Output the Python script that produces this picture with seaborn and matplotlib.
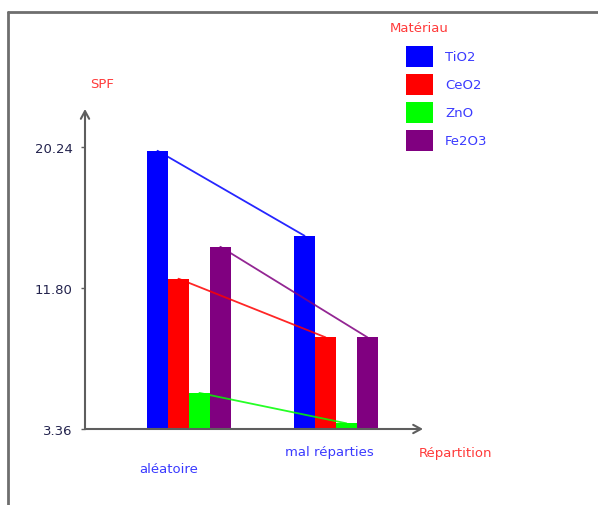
import pandas as pd
import numpy as np
import matplotlib.pyplot as plt
import seaborn as sns
from matplotlib.patches import Rectangle
from matplotlib.lines import Line2D
from matplotlib.transforms import blended_transform_factory

# -----------------------------
# Data
# -----------------------------
repartitions = ["aléatoire", "mal réparties"]
materiaux = ["TiO2", "CeO2", "ZnO", "Fe2O3"]
tio2 = [20.02, 14.93]
ceo2 = [12.36, 8.85]
zno = [5.52, 3.70]
fe2o3 = [14.27, 8.85]
couleurs = ["#0000ff", "#ff0000", "#00ff00", "#800080"]
yticks = [3.36, 11.80, 20.24]

df = pd.DataFrame({
    "Répartition": repartitions * 4,
    "Matériau": np.repeat(materiaux, 2),
    "SPF": tio2 + ceo2 + zno + fe2o3,
})

# -----------------------------
# Figure
# -----------------------------
sns.set_style("white")
plt.rcParams["font.family"] = ["DejaVu Sans"]

W, H = 598, 506
fig = plt.figure(figsize=(W / 100, H / 100), dpi=100)
ax = fig.add_axes([85 / W, 1 - 430 / H, (423 - 85) / W, (430 - 110) / H])

sns.barplot(data=df, x="Répartition", y="SPF", hue="Matériau",
            order=repartitions, hue_order=materiaux,
            palette=dict(zip(materiaux, couleurs)), width=0.57,
            saturation=1, errorbar=None, linewidth=0, legend=False, ax=ax)

# lines joining the same material across the two groups
for cont, col in zip(ax.containers, couleurs):
    xs = [b.get_x() + b.get_width() / 2 for b in cont]
    ys = [b.get_height() for b in cont]
    ax.plot(xs, ys, color=col, lw=1.3, alpha=0.85, zorder=3)

ax.set_xlim(-0.707, 1.592)
ax.set_ylim(3.36, 22.52)
for s in ax.spines.values():
    s.set_visible(False)

axis_col = "#5e5e5e"
arrow = dict(arrowstyle="->,head_length=0.55,head_width=0.3", color=axis_col,
             lw=1.5, shrinkA=0, shrinkB=0)
ax.annotate("", xy=(1, 0), xytext=(0, 0), xycoords="axes fraction", arrowprops=arrow)
ax.annotate("", xy=(0, 1), xytext=(0, 0), xycoords="axes fraction", arrowprops=arrow)

ax.set_yticks(yticks)
ax.set_yticklabels([f"{v:.2f}" for v in yticks])
ax.tick_params(axis="y", length=3, width=1, color=axis_col, pad=6,
               labelcolor="#23234d", labelsize=9.5, left=True)
ax.set_xticks([])
ax.set_xlabel("")
ax.set_ylabel("")

blue_txt = "#3a3aff"
red_txt = "#ff3a3a"
tr = blended_transform_factory(ax.transData, ax.transAxes)
ax.text(0 - 0.136, -0.125, repartitions[0], transform=tr, ha="center", va="center",
        color=blue_txt, fontsize=9.5)
ax.text(1 - 0.048, -0.069, repartitions[1], transform=tr, ha="center", va="center",
        color=blue_txt, fontsize=9.5)


def px(x, y):
    return x / W, 1 - y / H


fig.text(*px(102.5, 84), "SPF", color=red_txt, fontsize=9.5, ha="center", va="center")
fig.text(*px(455, 453), "Répartition", color=red_txt, fontsize=9.5, ha="center", va="center")
fig.text(*px(390, 29), "Matériau", color=red_txt, fontsize=9.5, ha="left", va="center")

# legend
for i, (m, c) in enumerate(zip(materiaux, couleurs)):
    x0, y0 = px(405.7, 46.7 + 28 * i + 21)
    fig.add_artist(Rectangle((x0, y0), 27.6 / W, 21 / H, transform=fig.transFigure,
                             facecolor=c, edgecolor="none"))
    fig.text(*px(445, 57.3 + 28 * i), m, color=blue_txt, fontsize=9.5, ha="left", va="center")

# outer frame (top and left edges)
frame_col = "#6e6e6e"
fig.add_artist(Line2D([8 / W, 8 / W], [0, 1 - 13 / H], color=frame_col, lw=2))
fig.add_artist(Line2D([8 / W, 1], [1 - 13 / H, 1 - 13 / H], color=frame_col, lw=2))

fig.savefig("out.png", dpi=100)
